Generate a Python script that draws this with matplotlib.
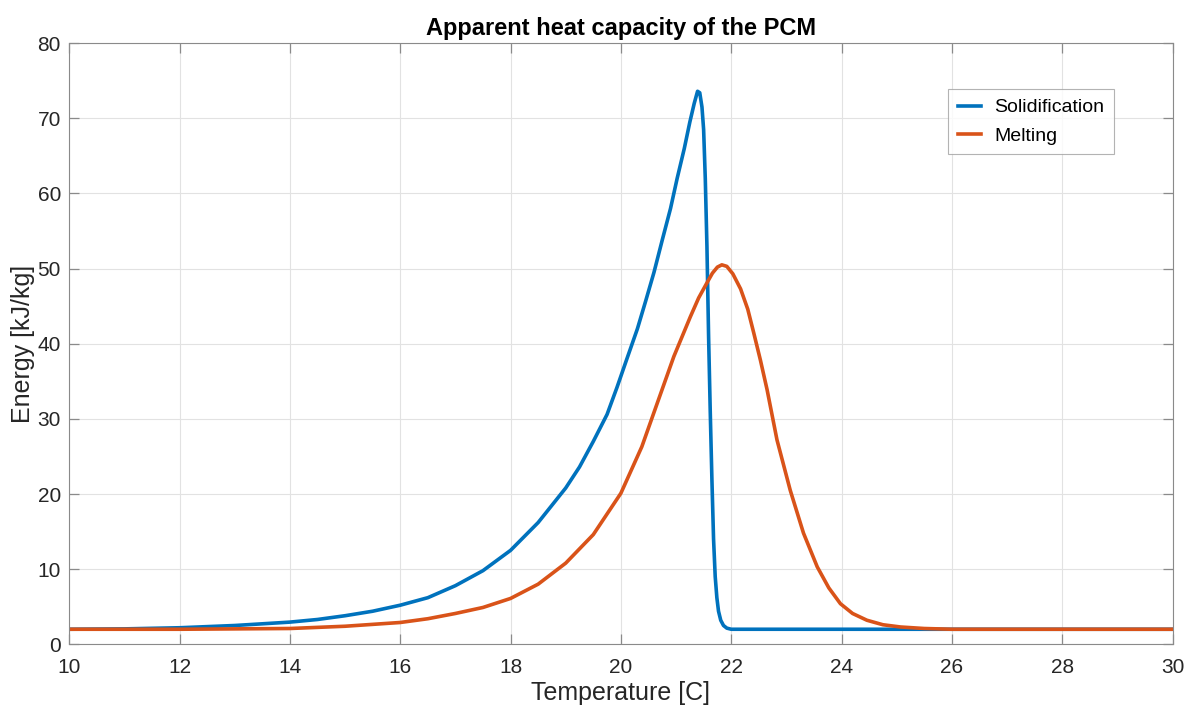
import matplotlib

matplotlib.use("Agg")
import matplotlib.pyplot as plt

matplotlib.rcParams["font.family"] = ["Liberation Sans", "DejaVu Sans"]

# Solidification curve
solid_T = [10, 11, 12, 13, 14, 14.5, 15, 15.5, 16, 16.5, 17, 17.5, 18, 18.5,
           19, 19.25, 19.5, 19.75, 19.93, 20.1, 20.3, 20.45, 20.6, 20.75, 20.9,
           21.02, 21.15, 21.25, 21.33, 21.39, 21.43, 21.47, 21.5, 21.53, 21.56,
           21.59, 21.62, 21.65, 21.68, 21.71, 21.74, 21.77, 21.81, 21.86, 21.92,
           22.0, 25, 30]
solid_E = [2.0, 2.05, 2.2, 2.5, 2.95, 3.3, 3.8, 4.4, 5.2, 6.2, 7.8, 9.8, 12.5,
           16.2, 20.8, 23.6, 27.0, 30.6, 34.2, 37.8, 42.0, 45.7, 49.5, 53.8, 58.0,
           62.0, 66.0, 69.5, 72.0, 73.6, 73.4, 71.5, 68.5, 62.0, 53.0, 41.0,
           31.0, 22.0, 14.0, 9.0, 6.2, 4.4, 3.2, 2.5, 2.15, 2.0, 2.0, 2.0]

# Melting curve
melt_T = [10, 12, 13, 14, 15, 16, 16.5, 17, 17.5, 18, 18.5, 19, 19.5, 20,
          20.38, 20.66, 20.96, 21.26, 21.41, 21.56, 21.66, 21.75, 21.83, 21.92,
          22.03, 22.17, 22.3, 22.41, 22.53, 22.65, 22.83, 23.07, 23.31, 23.56,
          23.77, 23.98, 24.2, 24.46, 24.75, 25.07, 25.5, 26, 30]
melt_E = [2.0, 2.0, 2.05, 2.1, 2.4, 2.9, 3.4, 4.1, 4.9, 6.1, 8.0, 10.8, 14.6,
          20.1, 26.3, 32.1, 38.3, 43.6, 46.1, 48.1, 49.4, 50.2, 50.5, 50.3,
          49.3, 47.3, 44.6, 41.4, 37.8, 33.9, 27.2, 20.5, 14.8, 10.3, 7.5, 5.4,
          4.1, 3.2, 2.6, 2.3, 2.1, 2.0, 2.0]

fig = plt.figure(figsize=(11.94, 7.08), dpi=100)
ax = fig.add_axes([0.058, 0.090, 0.924, 0.849])

ax.plot(solid_T, solid_E, color="#0072BD", lw=2.6, label="Solidification")
ax.plot(melt_T, melt_E, color="#D95319", lw=2.6, label="Melting")

ax.set_xlim(10, 30)
ax.set_ylim(0, 80)
ax.set_xticks(range(10, 31, 2))
ax.set_yticks(range(0, 81, 10))
ax.grid(True, color="#e2e2e2", lw=0.8)
ax.tick_params(direction="in", top=True, right=True, labelsize=15,
               colors="#8a8a8a", labelcolor="#262626", length=7, width=0.9)
ax.tick_params(axis="x", pad=10)
ax.tick_params(axis="y", pad=6)
for s in ax.spines.values():
    s.set_color("#8a8a8a")

ax.set_xlabel("Temperature [C]", fontsize=18, color="#262626", labelpad=3)
ax.set_ylabel("Energy [kJ/kg]", fontsize=18, color="#262626", labelpad=2)
ax.set_title("Apparent heat capacity of the PCM", fontsize=17,
             fontweight="bold", pad=6)

leg = ax.legend(loc="upper right", bbox_to_anchor=(0.956, 0.94), fontsize=14,
                fancybox=False, edgecolor="#a0a0a0", handlelength=1.2,
                handletextpad=0.7, borderpad=0.5, labelspacing=0.55)
leg.get_frame().set_linewidth(0.8)

fig.savefig("out.png", dpi=100)
